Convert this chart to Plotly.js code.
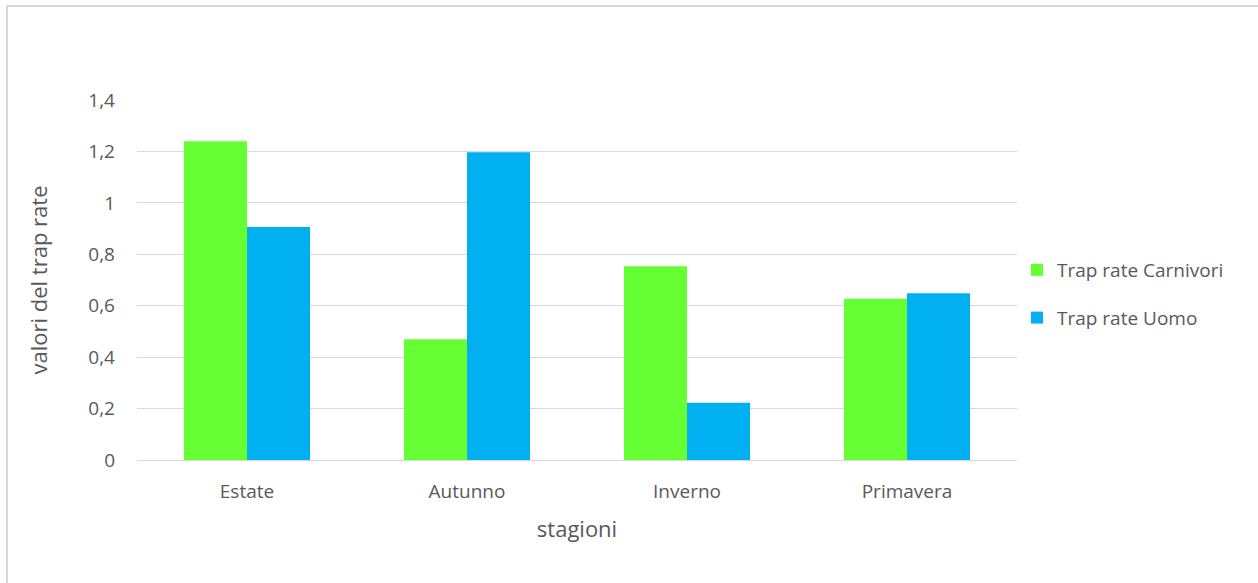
<!DOCTYPE html>
<html>
<head>
<meta charset="utf-8">
<script src="https://cdn.plot.ly/plotly-3.0.1.min.js"></script>
<style>
  html, body { margin: 0; padding: 0; background: #ffffff; }
  #wrap { position: relative; width: 1258px; height: 583px; }
  #chart { position: absolute; left: 0; top: 0; width: 1258px; height: 583px; }
  #frame { position: absolute; left: 6px; top: 5px; width: 1260px; height: 576px;
           border-left: 2px solid #d9d9d9; border-top: 2px solid #d9d9d9; border-bottom: 1px solid #e6e6e6;
           pointer-events: none; }
</style>
</head>
<body>
<div id="wrap">
  <div id="chart"></div>
  <div id="frame"></div>
</div>
<script>
const categories = ["Estate", "Autunno", "Inverno", "Primavera"];
const carnivori = [1.24, 0.47, 0.753, 0.627];
const uomo = [0.906, 1.197, 0.223, 0.648];
const seriesNames = ["Trap rate Carnivori", "Trap rate Uomo"];
const yTicks = [0, 0.2, 0.4, 0.6, 0.8, 1, 1.2, 1.4];

const fontFamily = "'Open Sans', 'Noto Sans', sans-serif";

const traces = [
  { type: "bar", x: categories, y: carnivori, name: seriesNames[0],
    legendgroup: "a", marker: { color: "#66ff33", line: { width: 0 } } },
  { type: "bar", x: categories, y: uomo, name: seriesNames[1],
    legendgroup: "b", marker: { color: "#00b0f0", line: { width: 0 } } }
];

const layout = {
  width: 1258, height: 583,
  margin: { l: 137, r: 241, t: 100, b: 123 },
  paper_bgcolor: "rgba(0,0,0,0)",
  plot_bgcolor: "#ffffff",
  separators: ",.",
  barmode: "group",
  bargap: 0.427,
  bargroupgap: 0,
  font: { family: fontFamily, color: "#595959", size: 19 },
  xaxis: {
    type: "category",
    showgrid: false, zeroline: false, showline: false, ticks: "",
    tickfont: { size: 19, color: "#595959" },
    ticklabelstandoff: 18,
    title: { text: "stagioni", font: { size: 22, color: "#595959" }, standoff: 18 }
  },
  yaxis: {
    range: [0, 1.4],
    tickvals: yTicks,
    showgrid: true, gridcolor: "#d9d9d9", gridwidth: 1,
    zeroline: true, zerolinecolor: "#d9d9d9", zerolinewidth: 1,
    showline: false, ticks: "",
    tickfont: { size: 19, color: "#595959" },
    ticklabelstandoff: 21,
    title: { text: "valori del trap rate", font: { size: 22, color: "#595959" }, standoff: 34 }
  },
  legend: {
    x: 1.0, xanchor: "left", y: 0.461, yanchor: "middle",
    traceorder: "grouped", tracegroupgap: 20,
    font: { size: 19, color: "#595959" },
    bgcolor: "rgba(0,0,0,0)"
  },
  showlegend: true
};

Plotly.newPlot("chart", traces, layout, { displayModeBar: false, staticPlot: true });
</script>
</body>
</html>
